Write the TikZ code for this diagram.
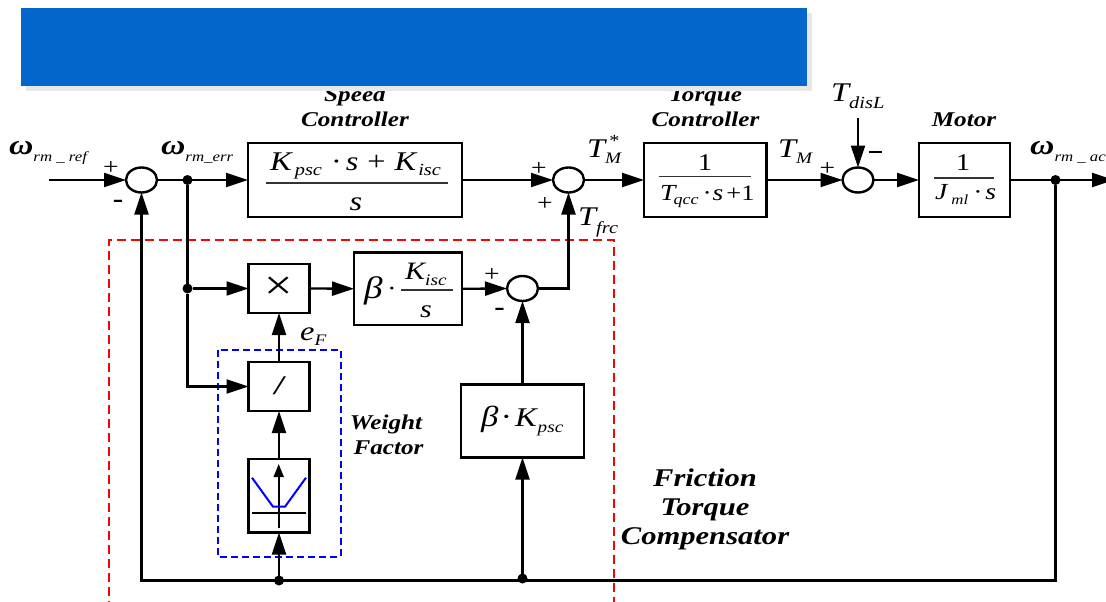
\documentclass[tikz,border=0pt]{standalone}
\usepackage{fontspec}
\setmainfont[FakeStretch=1.2]{Liberation Serif}
\usetikzlibrary{arrows.meta,shapes.geometric}
\newcommand{\fs}[1]{\fontsize{#1}{#1}\selectfont}
\newcommand{\low}[3]{\raisebox{-#1pt}{\fs{#2}\itshape #3}}
\tikzset{
  x=1pt,y=-1pt,
  wire/.style={line width=2.3pt,black},
  arw/.style={wire,-{Triangle[length=22pt,width=14pt]}},
  blk/.style={draw=black,line width=2.4pt,fill=white,inner sep=0pt,outer sep=0pt,anchor=north west},
  summer/.style={ellipse,draw=black,line width=2.4pt,minimum width=31pt,minimum height=25pt,inner sep=0pt,outer sep=0pt},
  junction/.style={circle,fill=black,minimum size=10pt,inner sep=0pt,outer sep=0pt},
  txt/.style={inner sep=0pt,text=black},
  lft/.style={txt,anchor=base west},
  mid/.style={txt,anchor=base},
  ttl/.style={mid,font=\fs{21}\bfseries\itshape},
  ttlb/.style={mid,font=\fs{25.5}\bfseries\itshape},
  sgn/.style={txt,font=\fs{23}},
  neg/.style={txt,font=\fs{26}\bfseries},
  bar/.style={line width=1.3pt,black!80},
}
\begin{document}
\begin{tikzpicture}
\useasboundingbox (0,0) rectangle (1106,602);
\clip (0,0) rectangle (1106,602);
% dashed frames
\draw[red,line width=2pt,dash pattern=on 9pt off 5pt] (108.5,610) -- (108.5,240) -- (614,240) -- (614,610);
\draw[blue,line width=2pt,dash pattern=on 7pt off 4pt] (218,349.5) rectangle (340.5,556.5);
% titles (cut by the banner)
\node[ttl] (tSpeed) at (355,102) {Speed};
\node[ttl] (tSpeedC) at (355,126) {Controller};
\node[ttl] (tTorque) at (705.5,102) {Torque};
\node[ttl] (tTorqueC) at (705.5,126) {Controller};
\node[ttl] (tMotor) at (964,126) {Motor};
\node[ttl] (tWF1) at (386,429) {Weight};
\node[ttl] (tWF2) at (388.5,454) {Factor};
\node[ttlb] (tF1) at (705,486.5) {Friction};
\node[ttlb] (tF2) at (705,515.5) {Torque};
\node[ttlb] (tF3) at (705,544) {Compensator};
% blocks
\node[blk,minimum width=214pt,minimum height=74pt] (speed) at (248,143) {};
\node[blk,minimum width=122.5pt,minimum height=74pt] (torque) at (644,143) {};
\node[blk,minimum width=91pt,minimum height=74pt] (motor) at (919,143) {};
\node[blk,minimum width=61pt,minimum height=49pt] (mult) at (248.5,264) {};
\node[blk,minimum width=108pt,minimum height=72.5pt] (bki) at (354,252.5) {};
\node[blk,minimum width=61pt,minimum height=49pt] (divb) at (248.5,362) {};
\node[blk,minimum width=61pt,minimum height=73.5pt] (look) at (248.5,459) {};
\node[blk,minimum width=123pt,minimum height=73pt] (bkp) at (461,384.5) {};
% summers
\node[summer] (s1) at (141.5,180) {};
\node[summer] (s2) at (568.5,180) {};
\node[summer] (s3) at (858,180) {};
\node[summer] (s4) at (522.5,288.5) {};
% junctions and free ends
\node[junction] (j1) at (187.5,180) {};
\node[junction] (j2) at (187.5,288.5) {};
\node[junction] (j3) at (1055.5,180) {};
\node[junction] (j4) at (279,580.5) {};
\node[junction] (j5) at (522.5,578.5) {};
\coordinate (in) at (49,180);
\coordinate (out) at (1114,180);
\coordinate (dist) at (858,117.5);
% connectors
\draw[arw] (in) -- (s1.west);
\draw[arw] (s1.east) -- (speed.west);
\draw[arw] (speed.east) -- (s2.west);
\draw[arw] (s2.east) -- (torque.west);
\draw[arw] (torque.east) -- (s3.west);
\draw[arw] (dist) -- (s3.north);
\draw[arw] (s3.east) -- (motor.west);
\draw[arw] (motor.east) -- (out);
\draw[wire] (j1) -- (j2);
\draw[arw] (j2) -- (mult.west);
\draw[arw] (j2) |- (divb.west);
\draw[arw] (mult.east) -- (bki.west);
\draw[arw] (bki.east) -- (s4.west);
\draw[arw] (s4.east) -| (s2.south);
\draw[arw] (divb.north) -- (mult.south);
\draw[arw] (look.north) -- (divb.south);
\draw[arw] (j4) -- (look.south);
\draw[arw] (bkp.north) -- (s4.south);
\draw[arw] (j5) -- (bkp.south);
\draw[arw] (j3) |- (j4.center) -| (s1.south);
% block contents
\node[lft] (fSpeedN) at (270,170) {\fs{27}\itshape K\hspace{3pt}\low{5}{17}{psc}\hspace{9pt}{\upshape ·}\hspace{4pt}s\hspace{9pt}{\upshape +}\hspace{9pt}K\hspace{2pt}\low{5}{17}{isc}};
\draw[bar] (266,183) -- (448,183);
\node[mid] (fSpeedD) at (356,210) {\fs{27}\itshape s};
\node[mid] (fTorqueN) at (705,170) {\fs{24}1};
\draw[bar] (658.5,176.7) -- (750.7,176.7);
\node[lft] (fTorqueD) at (660,200) {\fs{23}\itshape T\hspace{-2pt}\low{4}{15}{qcc}\hspace{4pt}{\upshape ·}\hspace{1pt}s\hspace{3pt}{\upshape\fs{22}+1}};
\node[mid] (fMotorN) at (963,170) {\fs{24}1};
\draw[bar] (934,178) -- (994,178);
\node[lft] (fMotorD) at (935,199) {\fs{23}\itshape J\hspace{4pt}\low{5}{14}{ml}\hspace{5pt}{\upshape ·}\hspace{3pt}s};
\node[txt] (xMark) at (278.7,288) {\fs{42}×};
\node[txt] (divMark) at (279,386) {\fs{27}\bfseries\itshape /};
\node[lft] (fBeta) at (364,298) {\fs{31}\itshape β};
\node[mid] (fDot) at (392,296) {\fs{24}·};
\node[lft] (fKiN) at (405,279) {\fs{25}\itshape K\low{6}{16}{isc}};
\draw[bar] (400.7,290) -- (453,290);
\node[mid] (fKiD) at (426,317) {\fs{25}\itshape s};
\node[lft] (fBK) at (481,426) {\fs{29}\itshape β\hspace{2pt}{\upshape ·}\hspace{3pt}\fs{27}K\hspace{1pt}\low{6}{16}{psc}};
% lookup symbol
\draw[line width=1.8pt,-{Triangle[length=13pt,width=10pt]}] (278.7,528) -- (278.7,464);
\draw[line width=1.8pt] (252,513) -- (306,513);
\draw[blue,line width=2pt] (252,477.7) -- (273,506.7) -- (285,506.7) -- (306,477.7);
% signal labels
\node[lft] (lRef) at (9,154) {\fs{28}\bfseries\itshape ω\mdseries\low{7}{14}{rm \_ ref}};
\node[lft] (lErr) at (161,154) {\fs{28}\bfseries\itshape ω\mdseries\low{7}{14}{rm\_err}};
\node[lft] (lAct) at (1030,154) {\fs{28}\bfseries\itshape ω\mdseries\low{7}{14}{rm \_ act}};
\node[lft] (lTs) at (587,157) {\fs{27}\itshape T\low{6}{16}{M}};
\node[txt] (lStar) at (614.5,141) {\fs{17}*};
\node[lft] (lTM) at (778,157) {\fs{27}\itshape T\low{6}{16}{M}};
\node[lft] (lTd) at (831,101) {\fs{27}\itshape T\low{7}{17}{disL}};
\node[lft] (lTf) at (578,225) {\fs{27}\itshape T\low{8}{17}{frc}};
\node[lft] (lE) at (300,340) {\fs{27}\itshape e\low{5}{16}{F}};
% signs
\node[sgn] (p1) at (111,168.5) {+};
\node[sgn] (p2) at (539,169) {+};
\node[sgn] (p3) at (545,204.5) {+};
\node[sgn] (p4) at (492,275.5) {+};
\node[sgn] (p5) at (827.5,169) {+};
\node[neg] (m1) at (118,204) {-};
\node[neg] (m2) at (499.5,312) {-};
\draw[line width=2.6pt] (869,152) -- (882,152);
% banner over the titles
\fill[black!9] (25.5,13.5) rectangle (812,91);
\fill[fill={rgb,255:red,3;green,102;blue,204}] (21,8) rectangle (807,86);
\end{tikzpicture}
\end{document}
